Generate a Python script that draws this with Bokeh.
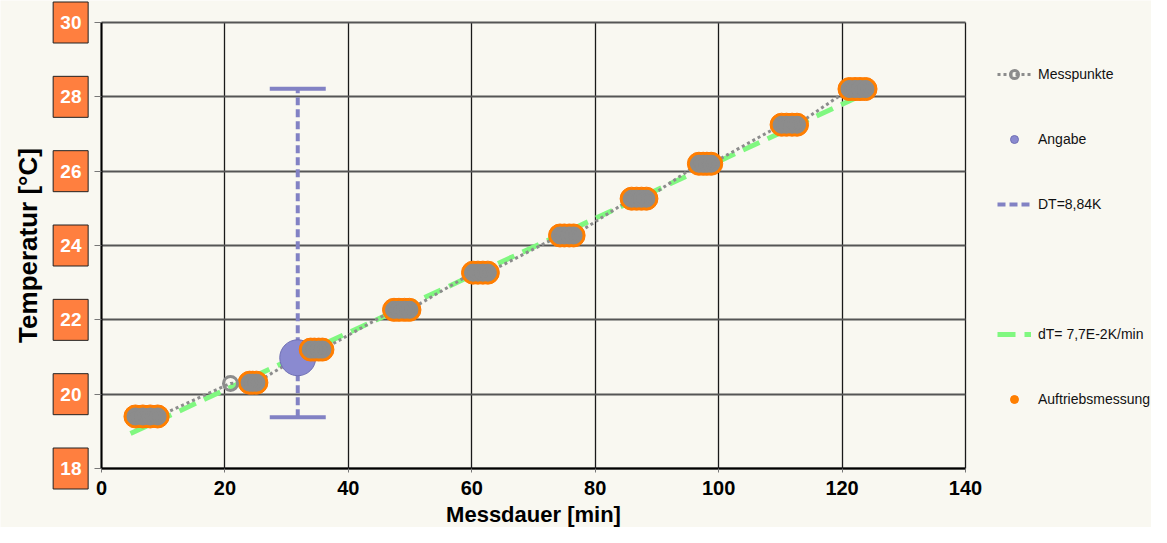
from bokeh.plotting import figure
from bokeh.models import Legend, LegendItem, Range1d
from bokeh.embed import file_html
from bokeh.resources import INLINE

# ---------------- data ----------------
x_ticks = [0, 20, 40, 60, 80, 100, 120, 140]
y_ticks = [18, 20, 22, 24, 26, 28, 30]

# Messpunkte (measurement points, incl. the single open one at ~21 min)
mess_x = [5.5, 6.7, 7.9, 9.1, 20.9, 24.0, 24.5, 25.1, 33.9, 34.5, 35.2, 35.8,
          47.4, 48.2, 49.1, 49.9, 60.2, 61.0, 61.8, 62.6, 74.3, 75.0, 75.8, 76.5,
          85.9, 86.7, 87.5, 88.3, 96.8, 97.5, 98.1, 98.8, 110.2, 111.0, 111.9, 112.7,
          121.2, 122.1, 122.9, 123.8]
mess_y = [19.40, 19.40, 19.40, 19.40, 20.29, 20.31, 20.31, 20.31, 21.20, 21.20, 21.20, 21.20,
          22.27, 22.27, 22.27, 22.27, 23.27, 23.27, 23.27, 23.27, 24.27, 24.27, 24.27, 24.27,
          25.26, 25.26, 25.26, 25.26, 26.20, 26.20, 26.20, 26.20, 27.25, 27.25, 27.25, 27.25,
          28.21, 28.21, 28.21, 28.21]

# Auftriebsmessung (buoyancy measurements)
auf_x = [5.5, 6.7, 7.9, 9.1, 24.0, 24.5, 25.1, 33.9, 34.5, 35.2, 35.8,
         47.4, 48.2, 49.1, 49.9, 60.2, 61.0, 61.8, 62.6, 74.3, 75.0, 75.8, 76.5,
         85.9, 86.7, 87.5, 88.3, 96.8, 97.5, 98.1, 98.8, 110.2, 111.0, 111.9, 112.7,
         121.2, 122.1, 122.9, 123.8]
auf_y = [19.40, 19.40, 19.40, 19.40, 20.31, 20.31, 20.31, 21.20, 21.20, 21.20, 21.20,
         22.27, 22.27, 22.27, 22.27, 23.27, 23.27, 23.27, 23.27, 24.27, 24.27, 24.27, 24.27,
         25.26, 25.26, 25.26, 25.26, 26.20, 26.20, 26.20, 26.20, 27.25, 27.25, 27.25, 27.25,
         28.21, 28.21, 28.21, 28.21]

# Trend line dT = 7,7E-2 K/min
trend_x = [4.7, 122.2]
trend_y = [18.94, 27.97]

# Angabe with DT range
angabe_x = [31.8]
angabe_y = [20.98]
dt_low = [19.38]
dt_high = [28.22]

# ---------------- styles ----------------
BG = "#f9f8f1"
ORANGE_BOX = "#ff7f3f"
GRAY = "#8c8c8c"
PURPLE = "#8282c4"
GREEN = "#80f880"
ORANGE = "#ff8000"
SANS = "Liberation Sans"
BOX_X = -5.0          # data column (left of the axis) where the tick boxes sit

p = figure(frame_width=1151, frame_height=527,
           min_border_left=0, min_border_right=0, min_border_top=0, min_border_bottom=0,
           x_range=Range1d(-16.366, 170.14), y_range=Range1d(16.413, 30.592),
           output_backend="svg", toolbar_location=None,
           background_fill_color=BG, border_fill_color=BG,
           outline_line_color=None)

# grid (only across the data area)
p.xgrid.ticker = x_ticks
p.ygrid.ticker = y_ticks
p.xgrid.cross_bounds = (18, 30)
p.ygrid.cross_bounds = (0, 140)
p.xgrid.grid_line_color = "#1a1a1a"
p.xgrid.grid_line_width = 1.3
p.ygrid.grid_line_color = "#555555"
p.ygrid.grid_line_width = 1.8

# x axis, placed at y = 18
p.xaxis.fixed_location = 18
p.xaxis.ticker = x_ticks
p.xaxis.bounds = (0, 140)
p.xaxis.axis_line_color = "black"
p.xaxis.axis_line_width = 2
p.xaxis.major_tick_out = 4
p.xaxis.major_tick_in = 0
p.xaxis.major_tick_line_color = "#777777"
p.xaxis.minor_tick_line_color = None
p.xaxis.major_label_text_font = SANS
p.xaxis.major_label_text_font_style = "bold"
p.xaxis.major_label_text_font_size = "20px"
p.xaxis.major_label_text_color = "black"
p.xaxis.major_label_standoff = 8
p.xaxis.axis_label = "Messdauer [min]"
p.xaxis.axis_label_text_font = SANS
p.xaxis.axis_label_text_font_style = "bold"
p.xaxis.axis_label_text_font_size = "22px"
p.xaxis.axis_label_text_color = "black"
p.xaxis.axis_label_standoff = 4

# tick boxes behind the y tick labels
p.rect(x=[BOX_X] * len(y_ticks), y=y_ticks, width=35, height=41,
       width_units="screen", height_units="screen",
       fill_color=ORANGE_BOX, line_color="#222222", line_width=1)

# y axis, placed at x = 0
p.yaxis.fixed_location = 0
p.yaxis.ticker = y_ticks
p.yaxis.bounds = (18, 30)
p.yaxis.axis_line_color = "black"
p.yaxis.axis_line_width = 2
p.yaxis.major_tick_out = 7
p.yaxis.major_tick_in = 0
p.yaxis.major_tick_line_color = "#777777"
p.yaxis.minor_tick_line_color = None
p.yaxis.major_label_text_color = "white"
p.yaxis.major_label_text_font = SANS
p.yaxis.major_label_text_font_style = "bold"
p.yaxis.major_label_text_font_size = "19px"
p.yaxis.major_label_standoff = 13
p.yaxis.axis_label = "Temperatur [°C]"
p.yaxis.axis_label_text_font = SANS
p.yaxis.axis_label_text_font_style = "bold"
p.yaxis.axis_label_text_font_size = "26px"
p.yaxis.axis_label_text_color = "black"
p.yaxis.axis_label_standoff = 14

# ---------------- glyphs ----------------
r_trend = p.line(trend_x, trend_y, line_color=GREEN, line_width=5, line_dash="18 9")
r_dt = p.segment(x0=angabe_x, y0=dt_low, x1=angabe_x, y1=dt_high,
                 line_color=PURPLE, line_width=4, line_dash="8 4")
p.scatter(x=angabe_x + angabe_x, y=dt_low + dt_high, marker="dash", size=56,
          line_color=PURPLE, line_width=4)
r_mline = p.line(mess_x, mess_y, line_color=GRAY, line_width=3, line_dash="3 3")
r_angabe = p.scatter(angabe_x, angabe_y, size=36, fill_color="#8a8ad0", line_color="#7070b4",
                     line_width=1)
r_auf = p.scatter(auf_x, auf_y, size=23, fill_color=ORANGE, line_color="#ff7a00")
p.scatter(auf_x, auf_y, size=17, fill_color=GRAY, line_color=GRAY)
r_mess = p.scatter(mess_x, mess_y, size=14, fill_color=None, line_color=GRAY, line_width=3)
r_spacer = p.line(trend_x, trend_y, line_alpha=0)

legend = Legend(items=[
    LegendItem(label="Messpunkte", renderers=[r_mline, r_mess]),
    LegendItem(label="Angabe", renderers=[r_angabe]),
    LegendItem(label="DT=8,84K", renderers=[r_dt]),
    LegendItem(label=" ", renderers=[r_spacer]),
    LegendItem(label="dT= 7,7E-2K/min", renderers=[r_trend]),
    LegendItem(label="Auftriebsmessung", renderers=[r_auf]),
], location=(997, 118), orientation="vertical",
    glyph_width=34, glyph_height=20, label_height=20, spacing=45,
    padding=0, margin=0, label_standoff=7,
    background_fill_alpha=0, border_line_alpha=0,
    label_text_font=SANS, label_text_font_size="14px", label_text_color="#111111")
p.add_layout(legend)

open("out.html", "w").write(file_html(p, INLINE))
